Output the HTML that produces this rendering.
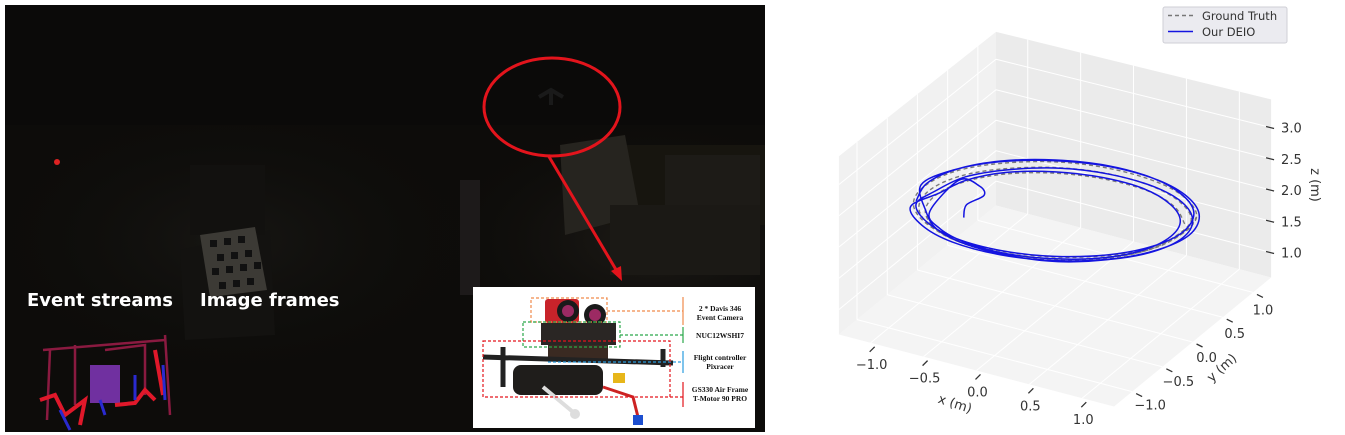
<!DOCTYPE html>
<html><head><meta charset="utf-8"><style>
html,body{margin:0;padding:0;background:#fff;}
body{width:1345px;height:435px;position:relative;overflow:hidden;font-family:"Liberation Sans",sans-serif;}
#photo{position:absolute;left:5px;top:5px;width:760px;height:427px;background:#0d0c0a;overflow:hidden;}
</style></head><body>
<div id="photo">
<svg width="760" height="427">
 <defs>
  <radialGradient id="g1" cx="0.85" cy="0.55" r="0.3"><stop offset="0" stop-color="#1e1b17"/><stop offset="1" stop-color="#0d0c0a" stop-opacity="0"/></radialGradient>
  <radialGradient id="g2" cx="0.3" cy="0.55" r="0.35"><stop offset="0" stop-color="#171613"/><stop offset="1" stop-color="#0d0c0a" stop-opacity="0"/></radialGradient>
 </defs>
 <rect width="760" height="427" fill="#0d0c0a"/>
 <rect width="760" height="427" fill="url(#g1)"/>
 <rect width="760" height="427" fill="url(#g2)"/>
 <rect x="0" y="0" width="760" height="120" fill="#0b0a09"/>
 <polygon points="175,245 265,225 270,330 180,335" fill="#131210"/>
 <rect x="185" y="160" width="75" height="70" fill="#12110f"/>
 <g>
  <polygon points="195,230 250,222 262,285 205,292" fill="#3c3a35"/>
  <rect x="205" y="235" width="7" height="7" fill="#111"/><rect x="219" y="233" width="7" height="7" fill="#111"/><rect x="233" y="231" width="7" height="7" fill="#111"/>
  <rect x="212" y="249" width="7" height="7" fill="#111"/><rect x="226" y="247" width="7" height="7" fill="#111"/><rect x="240" y="245" width="7" height="7" fill="#111"/>
  <rect x="207" y="263" width="7" height="7" fill="#111"/><rect x="221" y="261" width="7" height="7" fill="#111"/><rect x="235" y="259" width="7" height="7" fill="#111"/><rect x="249" y="257" width="7" height="7" fill="#111"/>
  <rect x="214" y="277" width="7" height="7" fill="#111"/><rect x="228" y="275" width="7" height="7" fill="#111"/><rect x="242" y="273" width="7" height="7" fill="#111"/>
 </g>
 <rect x="600" y="140" width="160" height="80" fill="#17150f"/>
 <rect x="660" y="150" width="95" height="60" fill="#1d1b17"/>
 <polygon points="555,140 620,130 635,210 560,230" fill="#26241f"/>
 <rect x="605" y="200" width="150" height="70" fill="#1b1915"/>
 <rect x="455" y="175" width="20" height="115" fill="#1d1a1a"/>
 <circle cx="52" cy="157" r="3" fill="#d22"/>
 <text x="22" y="301" fill="#fff" font-size="18" font-weight="bold" font-family="DejaVu Sans, sans-serif">Event streams</text>
 <text x="195" y="301" fill="#fff" font-size="18" font-weight="bold" font-family="DejaVu Sans, sans-serif">Image frames</text>
 <g fill="none" stroke-width="2.5">
  <path d="M38,345 L160,335 M45,345 L42,415 M70,340 L70,400 M100,345 L140,340 L140,390 M160,330 L165,410" stroke="#8a1a40"/>
  <rect x="85" y="360" width="30" height="38" fill="#7030a0" stroke="none"/>
  <path d="M35,395 L50,390 L60,410 L80,395 L75,420 M110,400 L130,398 L140,385 L150,395 M150,345 L158,390" stroke="#e0182a" stroke-width="4"/>
  <path d="M55,405 L65,425 M95,395 L100,410 M130,370 L130,395 M158,360 L160,395" stroke="#2a2ad0" stroke-width="3"/>
 </g>
 <ellipse cx="547" cy="102" rx="68" ry="49" fill="none" stroke="#e3141c" stroke-width="3"/>
 <path d="M534,92 L546,85 L558,92 M546,84 L546,100" stroke="#1a1a1a" stroke-width="4" fill="none"/>
 <line x1="543" y1="150" x2="613" y2="268" stroke="#e3141c" stroke-width="3"/>
 <polygon points="617,276 606,266 616,261" fill="#e3141c"/>
</svg>
</div>

<svg style="position:absolute;left:473px;top:287px" width="282" height="141">
 <rect width="282" height="141" fill="#fff"/>
 <rect x="72" y="12" width="34" height="24" rx="3" fill="#c8232a"/>
 <circle cx="95" cy="24" r="11" fill="#1a1a1a"/><circle cx="95" cy="24" r="6" fill="#9c2a63"/>
 <circle cx="122" cy="28" r="11" fill="#1a1a1a"/><circle cx="122" cy="28" r="6" fill="#9c2a63"/>
 <rect x="68" y="36" width="75" height="22" fill="#2a2624"/>
 <rect x="75" y="58" width="60" height="14" fill="#3a2a22"/>
 <path d="M10,70 L200,76 M30,60 L30,100 M190,62 L190,80" stroke="#222" stroke-width="5" fill="none"/>
 <rect x="40" y="78" width="90" height="30" rx="8" fill="#1f1d1b"/>
 <rect x="140" y="86" width="12" height="10" fill="#e7b61a"/>
 <path d="M70,100 L100,125" stroke="#ddd" stroke-width="4"/><circle cx="102" cy="127" r="5" fill="#ddd"/>
 <path d="M130,100 L160,110 L165,130" stroke="#c22" stroke-width="3" fill="none"/><rect x="160" y="128" width="10" height="10" fill="#1d4fd0"/>
 <g fill="none" stroke-dasharray="3,2" stroke-width="1.2">
  <rect x="58" y="11" width="76" height="24" stroke="#f08a4b"/><line x1="134" y1="24" x2="210" y2="24" stroke="#f08a4b"/><line x1="210" y1="10" x2="210" y2="38" stroke="#f08a4b" stroke-dasharray="none"/>
  <rect x="50" y="35" width="97" height="25" stroke="#2aa84a"/><line x1="147" y1="48" x2="210" y2="48" stroke="#2aa84a"/><line x1="210" y1="40" x2="210" y2="56" stroke="#2aa84a" stroke-dasharray="none"/>
  <line x1="75" y1="75" x2="210" y2="75" stroke="#2a9de0"/><line x1="210" y1="64" x2="210" y2="86" stroke="#2a9de0" stroke-dasharray="none"/>
  <rect x="10" y="54" width="187" height="56" stroke="#e3141c"/><line x1="197" y1="110" x2="210" y2="110" stroke="#e3141c"/><line x1="210" y1="95" x2="210" y2="120" stroke="#e3141c" stroke-dasharray="none"/>
 </g>
 <g font-family="Liberation Serif, serif" font-size="7.5" font-weight="bold" fill="#111" text-anchor="middle">
  <text x="247" y="24">2 * Davis 346</text><text x="247" y="33">Event Camera</text>
  <text x="247" y="51">NUC12WSHI7</text>
  <text x="247" y="73">Flight controller</text><text x="247" y="82">Pixracer</text>
  <text x="247" y="105">GS330 Air Frame</text><text x="247" y="114">T-Motor 90 PRO</text>
 </g>
</svg>

<svg id="plot" style="position:absolute;left:0;top:0" width="1345" height="435"></svg>

<script>
const xTicks=[-1.0,-0.5,0.0,0.5,1.0];
const yTicks=[-1.0,-0.5,0.0,0.5,1.0];
const zTicks=[1.0,1.5,2.0,2.5,3.0];
const gtX=[0.98,0.75,0.42,0.01,-0.39,-0.74,-0.97,-1.05,-0.98,-0.75,-0.42,-0.01,0.39,0.74,0.97,1.05,
 1.03,0.79,0.44,0.01,-0.41,-0.78,-1.02,-1.11,-1.03,-0.79,-0.44,-0.01,0.41,0.78,1.02,1.11,
 1.07,0.82,0.46,0.01,-0.43,-0.81,-1.06,-1.15,-1.07,-0.82,-0.46,-0.01,0.43,0.81,1.06,1.15,1.07];
const gtY=[0.43,0.66,0.79,0.80,0.69,0.48,0.19,-0.13,-0.43,-0.66,-0.79,-0.80,-0.69,-0.48,-0.19,0.13,
 0.45,0.69,0.83,0.84,0.73,0.50,0.20,-0.14,-0.45,-0.69,-0.83,-0.84,-0.73,-0.50,-0.20,0.14,
 0.47,0.72,0.86,0.87,0.76,0.52,0.21,-0.15,-0.47,-0.72,-0.86,-0.87,-0.76,-0.52,-0.21,0.15,0.47];
const gtZ=[2.00,2.00,2.01,2.01,2.02,2.02,2.02,2.03,2.03,2.03,2.04,2.04,2.04,2.05,2.05,2.05,
 2.06,2.06,2.06,2.07,2.07,2.07,2.08,2.08,2.08,2.09,2.09,2.09,2.10,2.10,2.10,2.11,
 2.12,2.12,2.12,2.13,2.13,2.13,2.14,2.14,2.14,2.15,2.15,2.15,2.16,2.16,2.16,2.17,2.12];
const deX=[-0.72,-0.78,-0.70,-0.80,-1.02,
 -0.95,-0.73,-0.40,-0.01,0.38,0.72,0.94,1.02,0.95,0.73,0.40,0.01,-0.38,-0.72,-0.94,-1.02,
 -1.09,-0.84,-0.47,-0.01,0.43,0.83,1.08,1.18,1.09,0.84,0.47,0.01,-0.43,-0.83,-1.08,-1.18,
 -0.97,-0.73,-0.39,0.03,0.44,0.80,1.04,1.13,1.05,0.81,0.47,0.05,-0.36,-0.72,-0.96,-1.05,
 -1.05,-0.81,-0.45,-0.01,0.42,0.80,1.04,1.13,1.05,0.81,0.45,0.01,-0.42,-0.80,-1.04,-1.13,-1.05];
const deY=[-0.25,-0.10,0.05,0.15,0.20,
 -0.41,-0.63,-0.76,-0.77,-0.67,-0.46,-0.18,0.13,0.41,0.63,0.76,0.77,0.67,0.46,0.18,-0.13,
 -0.48,-0.73,-0.88,-0.89,-0.77,-0.53,-0.21,0.15,0.48,0.73,0.88,0.89,0.77,0.53,0.21,-0.15,
 -0.44,-0.68,-0.81,-0.82,-0.72,-0.49,-0.20,0.14,0.44,0.68,0.81,0.82,0.72,0.49,0.20,-0.14,
 -0.46,-0.70,-0.85,-0.86,-0.74,-0.51,-0.20,0.14,0.46,0.70,0.85,0.86,0.74,0.51,0.20,-0.14,-0.46];
const deZ=[1.90,1.96,2.03,2.06,2.02,
 2.02,2.02,2.03,2.03,2.04,2.04,2.04,2.05,2.05,2.05,2.06,2.06,2.06,2.07,2.07,2.07,
 2.10,2.10,2.11,2.11,2.11,2.12,2.12,2.12,2.13,2.13,2.13,2.14,2.14,2.14,2.15,2.15,
 2.05,2.05,2.06,2.06,2.06,2.07,2.07,2.07,2.08,2.08,2.08,2.09,2.09,2.09,2.10,2.10,
 2.14,2.14,2.15,2.15,2.15,2.16,2.16,2.16,2.17,2.17,2.17,2.18,2.18,2.18,2.19,2.19,2.19];

const XR=[-1.3,1.3], YR=[-1.3,1.3], ZR=[0.6,3.45];
function P(x,y,z){
 const zs=62.5*(1+0.022*(y-x)/1.3*-1)*(1-0.0*y);
 const bx=1055+x*105.8+y*60.4, by=306+x*30-y*51.9+ (x*y<0?(y>0?6:-2):0)*0;
 const persp=(y-x)/2.6; // back corner => 1, front => -1
 return [bx, by + persp*6 - (z-ZR[0])*62.5*(1-0.025*persp) + (persp>0? 0:0)];
}
const svg=document.getElementById('plot');
const NS='http://www.w3.org/2000/svg';
function mk(tag,attrs,parent){const e=document.createElementNS(NS,tag);for(const k in attrs)e.setAttribute(k,attrs[k]);(parent||svg).appendChild(e);return e;}
function poly(pts){return pts.map(p=>p[0].toFixed(1)+','+p[1].toFixed(1)).join(' ');}

const paneL=mk('polygon',{points:poly([P(XR[0],YR[0],ZR[1]),P(XR[0],YR[1],ZR[1]),P(XR[0],YR[1],ZR[0]),P(XR[0],YR[0],ZR[0])]),fill:'#f1f1f1'});


const paneR=mk('polygon',{points:poly([P(XR[0],YR[1],ZR[1]),P(XR[1],YR[1],ZR[1]),P(XR[1],YR[1],ZR[0]),P(XR[0],YR[1],ZR[0])]),fill:'#ebebeb'});


const floor=mk('polygon',{points:poly([P(XR[0],YR[0],ZR[0]),P(XR[1],YR[0],ZR[0]),P(XR[1],YR[1],ZR[0]),P(XR[0],YR[1],ZR[0])]),fill:'#f4f4f4'});



function seg(a,b,st,w){const l=mk('line',{x1:a[0],y1:a[1],x2:b[0],y2:b[1],stroke:st,'stroke-width':w});return l;}
xTicks.forEach(x=>{const g1=seg(P(x,YR[0],ZR[0]),P(x,YR[1],ZR[0]),'#fff',1);
 const g2=seg(P(x,YR[1],ZR[0]),P(x,YR[1],ZR[1]),'#fff',1);});
yTicks.forEach(y=>{const g1=seg(P(XR[0],y,ZR[0]),P(XR[1],y,ZR[0]),'#fff',1);
 const g2=seg(P(XR[0],y,ZR[0]),P(XR[0],y,ZR[1]),'#fff',1);});
zTicks.forEach(z=>{const g1=seg(P(XR[0],YR[0],z),P(XR[0],YR[1],z),'#fff',1);
 const g2=seg(P(XR[0],YR[1],z),P(XR[1],YR[1],z),'#fff',1);});

function txt(s,x,y,anchor,extra){const t=mk('text',Object.assign({x:x,y:y,'font-size':13,fill:'#333','text-anchor':anchor,'font-family':'DejaVu Sans, sans-serif'},extra||{}));t.textContent=s;return t;}
function fmt(v){return (v<0?'\u2212':'')+Math.abs(v).toFixed(1);}
xTicks.forEach(x=>{const p=P(x,YR[0],ZR[0]);const tk=seg([p[0]-1,p[1]+9],[p[0]+4,p[1]+4],'#333',1.3);
 const t=txt(fmt(x),p[0]+1,p[1]+26,'middle');});
yTicks.forEach(y=>{const p=P(XR[1],y,ZR[0]);const tk=seg([p[0]+4,p[1]+2],[p[0]+10,p[1]+5],'#333',1.3);
 const t=txt(fmt(y),p[0]+14+(-y)*4,p[1]+20+y*2,'middle');});
zTicks.forEach(z=>{const p=P(XR[1],YR[1],z);const tk=seg([p[0]-5,p[1]-1],[p[0]+3,p[1]+1],'#333',1.3);
 const t=txt(fmt(z),p[0]+10,p[1]+5,'start');});
const xl=txt('x (m)',955,408,'middle',{transform:'rotate(18 955 404)'});
const yl=txt('y (m)',1222,372,'middle',{transform:'rotate(-42 1222 368)'});
const zl=txt('z (m)',1311,185,'middle',{transform:'rotate(90 1311 185)'});

function smooth(xs,ys,zs){const pts=xs.map((x,i)=>P(x,ys[i],zs[i]));let d='M'+pts[0][0].toFixed(1)+','+pts[0][1].toFixed(1);
 for(let i=0;i<pts.length-1;i++){const p0=pts[Math.max(0,i-1)],p1=pts[i],p2=pts[i+1],p3=pts[Math.min(pts.length-1,i+2)];
  const c1=[p1[0]+(p2[0]-p0[0])/6,p1[1]+(p2[1]-p0[1])/6],c2=[p2[0]-(p3[0]-p1[0])/6,p2[1]-(p3[1]-p1[1])/6];
  d+=' C'+c1[0].toFixed(1)+','+c1[1].toFixed(1)+' '+c2[0].toFixed(1)+','+c2[1].toFixed(1)+' '+p2[0].toFixed(1)+','+p2[1].toFixed(1);}
 return d;}
const gt=mk('path',{d:smooth(gtX,gtY,gtZ),fill:'none',stroke:'#7a7a7a','stroke-width':1.4,'stroke-dasharray':'4,3'});


const de=mk('path',{d:smooth(deX,deY,deZ),fill:'none',stroke:'#1414e0','stroke-width':1.5});



const lg=mk('g',{});


mk('rect',{x:1163,y:7,width:124,height:36,rx:2,fill:'#ebebf0',stroke:'#cfcfd6'},lg);
const e1=mk('line',{x1:1168,y1:15.5,x2:1193,y2:15.5,stroke:'#777','stroke-width':1.4,'stroke-dasharray':'4,3'},lg);


const e2=mk('line',{x1:1168,y1:31.5,x2:1193,y2:31.5,stroke:'#1414e0','stroke-width':1.6},lg);


const l1=txt('Ground Truth',1202,20,'start',{'font-size':11.5});lg.appendChild(l1);


const l2=txt('Our DEIO',1202,36,'start',{'font-size':11.5});lg.appendChild(l2);


</script>
</body></html>
